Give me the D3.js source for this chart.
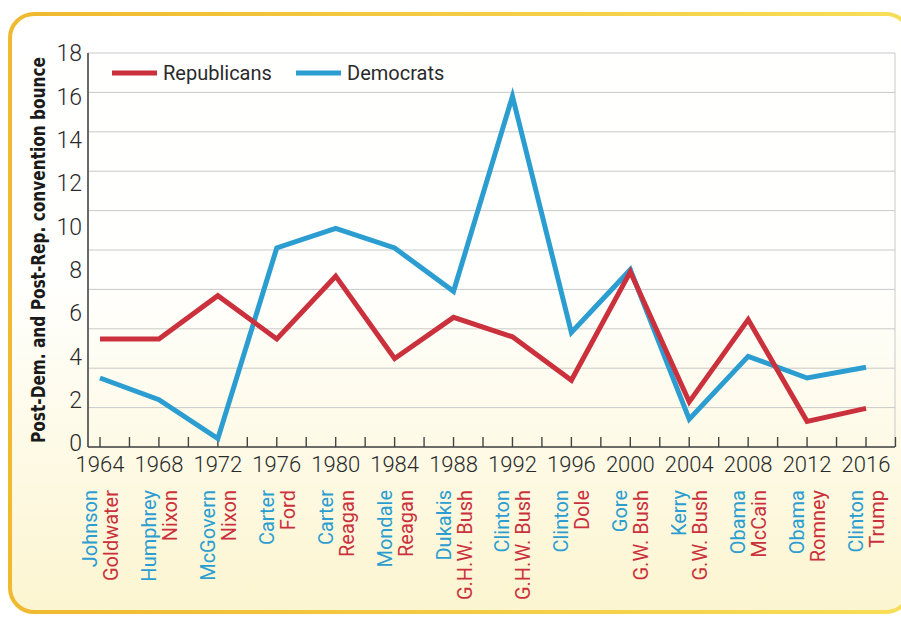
<!DOCTYPE html>
<html>
<head>
<meta charset="utf-8">
<script src="https://cdn.jsdelivr.net/npm/d3@7"></script>
<style>
  body { margin: 0; background: #fff; }
  svg { display: block; }
</style>
</head>
<body>
<div id="chart"></div>
<script>
// election years and candidates (Dem on top line, Rep below)
var years = [1964, 1968, 1972, 1976, 1980, 1984, 1988, 1992, 1996, 2000, 2004, 2008, 2012, 2016];
var demNames = ["Johnson", "Humphrey", "McGovern", "Carter", "Carter", "Mondale", "Dukakis",
    "Clinton", "Clinton", "Gore", "Kerry", "Obama", "Obama", "Clinton"];
var repNames = ["Goldwater", "Nixon", "Nixon", "Ford", "Reagan", "Reagan", "G.H.W. Bush",
    "G.H.W. Bush", "Dole", "G.W. Bush", "G.W. Bush", "McCain", "Romney", "Trump"];

// convention bounce
var republicans = [4.8, 4.8, 6.8, 4.8, 7.7, 3.9, 5.8, 4.9, 2.9, 7.9, 1.9, 5.7, 1.0, 1.6];
var democrats = [3.0, 2.0, 0.2, 9.0, 9.9, 9.0, 7.0, 16.0, 5.1, 8.0, 1.1, 4.0, 3.0, 3.5];

var yTicks = [0, 2, 4, 6, 8, 10, 12, 14, 16, 18];
var xTicks = d3.range(1964, 2019, 2);
var gridSteps = d3.range(0, 11);

const width = 901;
const height = 617;
const red = "#cb313c";
const blue = "#2b9dd0";

const svg = d3.select("#chart").append("svg")
    .attr("width", width)
    .attr("height", height);

const defs = svg.append("defs");
const bg = defs.append("linearGradient").attr("id", "bg")
    .attr("x1", 0).attr("y1", 0).attr("x2", 0).attr("y2", 1);
bg.append("stop").attr("offset", "0%").attr("stop-color", "#ffffff");
bg.append("stop").attr("offset", "45%").attr("stop-color", "#fffffd");
bg.append("stop").attr("offset", "100%").attr("stop-color", "#fcf5d0");

const rim = defs.append("linearGradient").attr("id", "rim")
    .attr("x1", 0).attr("y1", 0).attr("x2", 1).attr("y2", 0);
rim.append("stop").attr("offset", "0%").attr("stop-color", "#f0b92f");
rim.append("stop").attr("offset", "100%").attr("stop-color", "#f8de58");

// yellow frame, right side runs off the page
svg.append("rect")
    .attr("x", 10).attr("y", 14)
    .attr("width", 900).attr("height", 598)
    .attr("rx", 24)
    .attr("fill", "url(#bg)")
    .attr("stroke", "url(#rim)")
    .attr("stroke-width", 4);

const x = d3.scaleLinear()
    .domain([1964, 2016])
    .range([100, 866]);

// value scale (labels and lines)
const y = d3.scaleLinear()
    .domain([0, 18])
    .range([443, 53]);

// grid lines are spaced on their own
const grid = d3.scaleLinear()
    .domain([0, 10])
    .range([447, 53]);

const left = 88, right = 895;

svg.append("g")
    .selectAll("line")
    .data(gridSteps)
    .join("line")
    .attr("x1", left).attr("x2", right)
    .attr("y1", d => grid(d)).attr("y2", d => grid(d))
    .attr("stroke", "#c9c9c9")
    .attr("stroke-width", 1);

svg.append("line")
    .attr("x1", right).attr("x2", right)
    .attr("y1", grid(10)).attr("y2", grid(0))
    .attr("stroke", "#c9c9c9");

// axes
svg.append("line")
    .attr("x1", left).attr("x2", left)
    .attr("y1", grid(10)).attr("y2", grid(0))
    .attr("stroke", "#444").attr("stroke-width", 1.6);

svg.append("line")
    .attr("x1", left).attr("x2", right)
    .attr("y1", grid(0)).attr("y2", grid(0))
    .attr("stroke", "#444").attr("stroke-width", 1.6);

svg.append("g")
    .selectAll("line")
    .data(xTicks)
    .join("line")
    .attr("x1", d => x(d)).attr("x2", d => x(d))
    .attr("y1", grid(0)).attr("y2", grid(0) - 10)
    .attr("stroke", "#444").attr("stroke-width", 1.4);

svg.append("g")
    .selectAll("text")
    .data(yTicks)
    .join("text")
    .attr("x", 82)
    .attr("y", d => y(d))
    .attr("dy", "0.36em")
    .attr("text-anchor", "end")
    .attr("font-family", "Roboto, sans-serif")
    .attr("font-weight", 300)
    .attr("font-size", 23)
    .attr("fill", "#2a2a2a")
    .text(d => d);

svg.append("g")
    .selectAll("text")
    .data(years)
    .join("text")
    .attr("x", d => x(d))
    .attr("y", 472)
    .attr("text-anchor", "middle")
    .attr("font-family", "Roboto, sans-serif")
    .attr("font-weight", 300)
    .attr("font-size", 22)
    .attr("fill", "#2a2a2a")
    .text(d => d);

svg.append("text")
    .attr("transform", `translate(45,${(y(0) + y(18)) / 2 + 2}) rotate(-90)`)
    .attr("text-anchor", "middle")
    .attr("font-family", "'Liberation Sans Narrow', 'DejaVu Sans Condensed', sans-serif")
    .attr("font-weight", "bold")
    .attr("font-size", 19)
    .attr("textLength", 386)
    .attr("lengthAdjust", "spacingAndGlyphs")
    .attr("fill", "#1a1a1a")
    .text("Post-Dem. and Post-Rep. convention bounce");

// candidate names under each year
const names = svg.append("g")
    .selectAll("g")
    .data(years)
    .join("g")
    .attr("transform", d => `translate(${x(d)},490) rotate(-90)`)
    .attr("font-family", "Roboto, sans-serif")
    .attr("font-size", 20)
    .attr("text-anchor", "end");

names.append("text")
    .attr("y", -3)
    .attr("fill", blue)
    .text((d, i) => demNames[i]);

names.append("text")
    .attr("y", 18)
    .attr("fill", red)
    .text((d, i) => repNames[i]);

// lines
const line = d3.line()
    .x((d, i) => x(years[i]))
    .y(d => y(d));

svg.append("path")
    .datum(democrats)
    .attr("fill", "none")
    .attr("stroke", blue)
    .attr("stroke-width", 5)
    .attr("d", line);

svg.append("path")
    .datum(republicans)
    .attr("fill", "none")
    .attr("stroke", red)
    .attr("stroke-width", 5)
    .attr("d", line);

// legend
var legend = [{ name: "Republicans", color: red, x: 112 }, { name: "Democrats", color: blue, x: 296 }];

const lg = svg.append("g")
    .selectAll("g")
    .data(legend)
    .join("g")
    .attr("transform", d => `translate(${d.x},73)`);

lg.append("line")
    .attr("x1", 0).attr("x2", 45)
    .attr("stroke", d => d.color)
    .attr("stroke-width", 5);

lg.append("text")
    .attr("x", 51)
    .attr("y", 7)
    .attr("font-family", "Roboto, sans-serif")
    .attr("font-size", 20)
    .attr("fill", "#2a2a2a")
    .text(d => d.name);
</script>
</body>
</html>
